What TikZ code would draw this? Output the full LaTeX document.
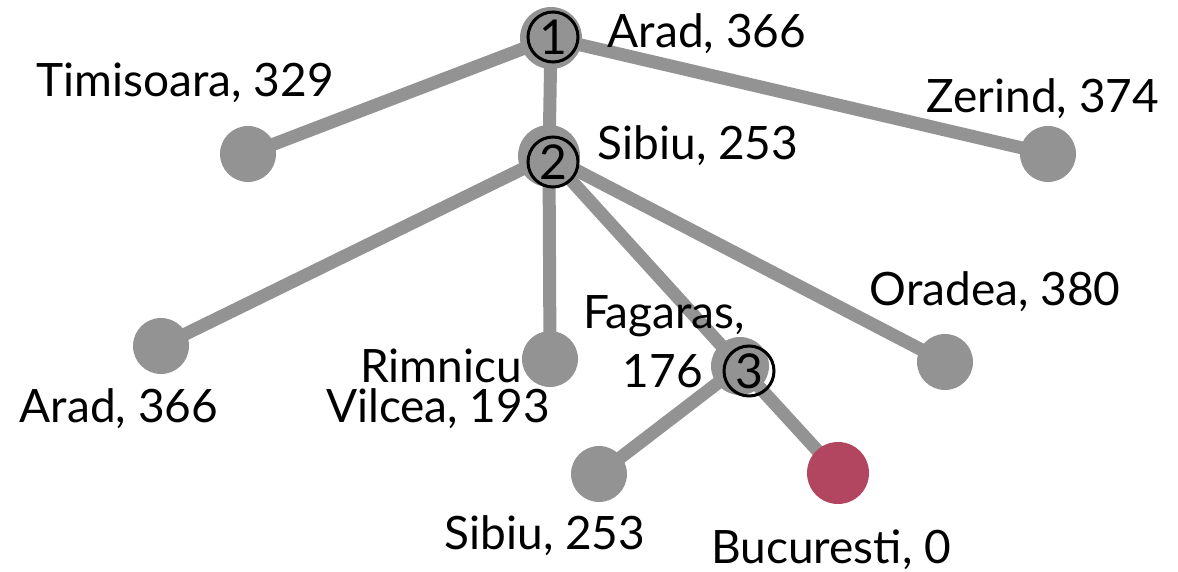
\documentclass[tikz,border=0pt]{standalone}
\usepackage{fontspec}
\setmainfont{Lato}
\definecolor{nodegray}{HTML}{939393}
\definecolor{goalred}{HTML}{B24660}
\pgfdeclarelayer{edges}
\pgfsetlayers{edges,main}
\begin{document}
\begin{tikzpicture}[x=1pt,y=-1pt,
  edge/.style={draw=nodegray,line width=13pt},
  leaf/.style={circle,fill=nodegray,minimum size=56pt,inner sep=0pt},
  inner/.style={circle,fill=nodegray,minimum size=62pt,inner sep=0pt},
  goal/.style={circle,fill=goalred,minimum size=62pt,inner sep=0pt},
  ring/.style={circle,draw=black,line width=3pt,minimum size=50pt,inner sep=0pt,font=\fontsize{48}{50}\selectfont},
  lbl/.style={anchor=base,inner sep=0pt,font=\fontsize{46}{50}\selectfont}]
\useasboundingbox (0,0) rectangle (1178,572);
% nodes
\node[inner] (n1) at (551,38) {};
\node[inner] (n2) at (549,156) {};
\node[inner,minimum size=58pt] (n3) at (740,366) {};
\node[leaf] (tim) at (248,154) {};
\node[leaf] (zer) at (1048,154) {};
\node[leaf] (ara) at (161,346) {};
\node[leaf] (rim) at (550,359) {};
\node[leaf] (ora) at (945,362) {};
\node[leaf] (sib) at (599,474) {};
\node[goal] (buc) at (838,473) {};
% edges (behind the nodes)
\begin{pgfonlayer}{edges}
\draw[edge] (n1.center) -- (tim.center);
\draw[edge] (n1.center) -- (n2.center);
\draw[edge] (n1.center) -- (zer.center);
\draw[edge] (n2.center) -- (ara.center);
\draw[edge] (n2.center) -- (rim.center);
\draw[edge] (n2.center) -- (n3.center);
\draw[edge] (n2.center) -- (ora.center);
\draw[edge] (n3.center) -- (sib.center);
\draw[edge] (n3.center) -- (buc.center);
\end{pgfonlayer}
% rings
\node[ring] (r1) at (553,37) {1};
\node[ring] (r2) at (553,162) {2};
\node[ring] (r3) at (749,371) {3};
% labels
\node[lbl] (l1) at (707,48) {Arad, 366};
\node[lbl] (l2) at (698,160) {Sibiu, 253};
\node[lbl] (ltim) at (185,97) {Timisoara, 329};
\node[lbl] (lzer) at (1043,113) {Zerind, 374};
\node[lbl] (lora) at (995,305) {Oradea, 380};
\node[lbl] (lfag1) at (664,328) {Fagaras,};
\node[lbl] (lfag2) at (663,387) {176};
\node[lbl] (lrim1) at (441,382) {Rimnicu};
\node[lbl] (lrim2) at (438,422) {Vilcea, 193};
\node[lbl] (lara) at (119,422) {Arad, 366};
\node[lbl] (lsib) at (545,549) {Sibiu, 253};
\node[lbl] (lbuc) at (831,563) {Bucuresti, 0};
\end{tikzpicture}
\end{document}
